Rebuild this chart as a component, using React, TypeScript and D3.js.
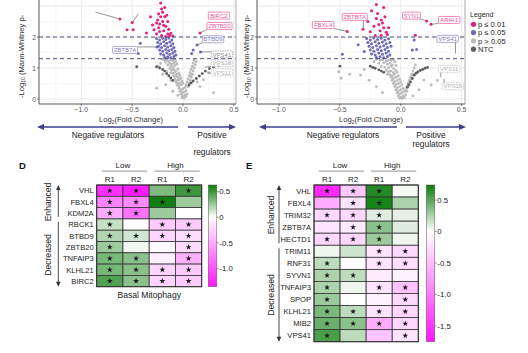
import React from "react";
import * as d3 from "d3";

type P = [number, number];

const FONT = "Liberation Sans, Arial, Helvetica, sans-serif";
const xTickVals = [-1.0, -0.5, 0.0, 0.5];
const xMinor = [-1.25, -0.75, -0.25, 0.25];
const yTickVals = [0, 1, 2];
const yGrid = [0, 1, 2, 3];
const yMinor = [0.5, 1.5, 2.5];
const thresholds = [2, 1.3];

const COL = { pink: "#e3217e", purple: "#6c6cb6", gray: "#bcbcbc", ntc: "#5f5f5f" };

// ---------- Left volcano (Basal) ----------
const leftPink: P[] = [
  [-0.62, 2.58], [-0.5, 2.47], [-0.55, 2.23], [-0.49, 2.23], [-0.36, 2.13], [-0.32, 2.65], [-0.3, 2.39],
  [-0.285, 2.23], [-0.26, 2.1], [-0.24, 2.3], [-0.22, 2.65], [-0.2, 2.5], [-0.18, 2.65], [-0.25, 2.55],
  [-0.23, 2.18], [-0.21, 2.05], [-0.19, 2.2], [-0.17, 2.35], [-0.15, 2.1], [-0.13, 2.05], [-0.2, 2.8],
  [-0.18, 2.95], [-0.22, 3.1], [-0.16, 2.7], [-0.24, 2.75], [-0.19, 2.38], [-0.14, 2.25], [-0.12, 2.12],
  [-0.1, 2.03], [-0.26, 2.45], [-0.17, 2.02], [0.167, 2.13], [-0.21, 2.9], [-0.15, 2.5], [-0.23, 2.42],
];
const leftPurple: P[] = [
  [-0.42, 1.8], [-0.44, 1.47], [0.085, 1.47], [0.1, 1.58], [0.138, 1.74], [-0.256, 1.68], [-0.26, 1.95],
  [-0.23, 1.9], [-0.2, 1.96], [-0.17, 1.92], [-0.14, 1.97], [-0.11, 1.9], [-0.25, 1.82], [-0.22, 1.78],
  [-0.19, 1.85], [-0.16, 1.8], [-0.13, 1.84], [-0.1, 1.78], [-0.24, 1.7], [-0.21, 1.66], [-0.18, 1.72],
  [-0.15, 1.68], [-0.12, 1.72], [-0.09, 1.66], [-0.23, 1.58], [-0.2, 1.54], [-0.17, 1.6], [-0.14, 1.56],
  [-0.11, 1.6], [-0.08, 1.54], [-0.22, 1.45], [-0.19, 1.42], [-0.16, 1.48], [-0.13, 1.44], [-0.1, 1.48],
  [-0.07, 1.42], [-0.18, 1.34], [-0.15, 1.36], [-0.12, 1.33], [-0.09, 1.37], [0.172, 1.52],
];
const leftGray: P[] = [
  [-0.2, 1.28], [-0.18, 1.25], [-0.16, 1.27], [-0.14, 1.22], [-0.12, 1.26], [-0.1, 1.24], [-0.08, 1.28],
  [-0.17, 1.18], [-0.13, 1.15], [-0.11, 1.12], [-0.09, 1.17], [-0.07, 1.2], [-0.15, 1.1], [-0.12, 1.05],
  [-0.1, 1.02], [-0.08, 1.08], [-0.06, 1.12], [-0.22, 1.15], [-0.24, 1.05], [-0.13, 0.98], [-0.11, 0.93],
  [-0.09, 0.95], [-0.07, 0.9], [-0.05, 0.97], [-0.12, 0.85], [-0.1, 0.82], [-0.08, 0.86], [-0.06, 0.8],
  [-0.04, 0.84], [-0.09, 0.75], [-0.07, 0.72], [-0.05, 0.7], [-0.03, 0.76], [-0.16, 0.88], [-0.2, 0.8],
  [-0.08, 0.65], [-0.06, 0.6], [-0.04, 0.62], [-0.02, 0.66], [-0.07, 0.55], [-0.05, 0.5], [-0.03, 0.52],
  [-0.01, 0.57], [-0.06, 0.45], [-0.04, 0.42], [-0.02, 0.46], [0, 0.5], [-0.12, 0.6], [-0.17, 0.46],
  [-0.04, 0.35], [-0.02, 0.3], [0, 0.33], [0.02, 0.37], [-0.03, 0.25], [-0.01, 0.2], [0.01, 0.22],
  [0.03, 0.27], [-0.02, 0.15], [0, 0.1], [0.02, 0.12], [-0.01, 0.05], [0.01, 0.03], [0.03, 0.08],
  [-0.05, 0.12], [0.04, 0.16], [-0.26, 0.35], [-0.1, 0.25], [0.03, 0.45], [0.05, 0.4], [0.04, 0.55],
  [0.06, 0.5], [0.05, 0.65], [0.07, 0.6], [0.06, 0.75], [0.08, 0.7], [0.07, 0.85], [0.09, 0.8],
  [0.08, 0.95], [0.1, 0.9], [0.09, 1.05], [0.11, 1.0], [0.1, 1.15], [0.12, 1.1], [0.11, 1.25],
  [0.13, 1.2], [0.085, 0.77], [0.167, 0.4], [0.2, 0.62], [0.25, 0.85], [0.14, 0.55], [0.3, 0.2],
];
const leftNtc: P[] = [
  [-0.455, 1.04], [-0.26, 1.04], [-0.23, 1.0], [-0.2, 0.95], [-0.18, 0.9], [-0.16, 0.82], [-0.14, 0.75],
  [-0.12, 0.68], [-0.1, 0.6], [0.06, 0.45], [0.08, 0.52], [0.1, 0.58], [0.13, 0.66], [0.16, 0.74],
  [0.19, 0.82], [0.22, 0.9], [0.26, 0.98], [0.3, 1.03], [0.35, 1.08], [0.4, 1.12], [0.45, 1.14],
];
// label: text, point x,y, label x,y, kind
const leftLabels: [string, number, number, number, number, string][] = [
  ["BIRC2", 0.354, 2.69, 0.354, 2.69, "pink"],
  ["ZBTB20", 0.167, 2.13, 0.359, 2.355, "pink"],
  ["BTBD9", 0.138, 1.74, 0.295, 1.926, "purple"],
  ["ZBTB7A", -0.256, 1.68, -0.57, 1.58, "purple"],
  ["VPS41", 0.172, 1.52, 0.383, 1.44, "dgray"],
  ["VPS18", 0.216, 1.03, 0.383, 1.16, "gray"],
  ["VPS11", 0.246, 0.84, 0.383, 0.86, "gray"],
];
const leftLeaders: [number, number, number, number][] = [
  [-0.62, 2.58, -0.86, 2.8],
  [-0.5, 2.47, -0.44, 2.74],
];

// ---------- Right volcano ----------
const rightPink: P[] = [
  [-0.44, 2.18], [-0.31, 2.25], [-0.25, 2.17], [-0.19, 2.76], [-0.18, 2.4], [-0.16, 2.55], [-0.14, 2.3],
  [-0.12, 2.15], [-0.2, 2.6], [-0.22, 2.35], [-0.15, 2.45], [-0.13, 2.65], [-0.17, 2.2], [-0.11, 2.08],
  [-0.21, 2.05], [-0.24, 2.85], [-0.14, 2.95], [-0.2, 3.05], [-0.16, 2.05], [0.213, 2.52], [0.249, 2.41],
  [0.12, 2.06], [-0.1, 2.3], [-0.27, 2.5],
];
const rightPurple: P[] = [
  [-0.28, 1.95], [-0.25, 1.9], [-0.22, 1.97], [-0.19, 1.92], [-0.16, 1.96], [-0.13, 1.9], [-0.1, 1.94],
  [-0.27, 1.82], [-0.24, 1.78], [-0.21, 1.85], [-0.18, 1.8], [-0.15, 1.84], [-0.12, 1.78], [-0.09, 1.82],
  [-0.26, 1.7], [-0.23, 1.66], [-0.2, 1.72], [-0.17, 1.68], [-0.14, 1.72], [-0.11, 1.66], [-0.08, 1.7],
  [-0.25, 1.58], [-0.22, 1.54], [-0.19, 1.6], [-0.16, 1.56], [-0.13, 1.6], [-0.1, 1.54], [-0.24, 1.45],
  [-0.21, 1.42], [-0.18, 1.48], [-0.15, 1.44], [-0.12, 1.48], [-0.09, 1.42], [-0.2, 1.34], [-0.17, 1.36],
  [-0.14, 1.33], [-0.11, 1.37], [-0.48, 1.44], [-0.3, 1.53], [0.095, 1.58], [0.13, 1.6], [0.11, 1.9],
  [-0.35, 1.75],
];
const rightGray: P[] = [
  [-0.2, 1.28], [-0.17, 1.25], [-0.15, 1.27], [-0.12, 1.22], [-0.1, 1.26], [-0.08, 1.24], [-0.06, 1.28],
  [-0.22, 1.2], [-0.18, 1.15], [-0.14, 1.17], [-0.11, 1.12], [-0.09, 1.15], [-0.07, 1.1], [-0.05, 1.2],
  [-0.16, 1.05], [-0.13, 1.02], [-0.1, 1.0], [-0.08, 1.06], [-0.06, 0.98], [-0.04, 1.08], [-0.12, 0.92],
  [-0.1, 0.88], [-0.08, 0.9], [-0.06, 0.85], [-0.04, 0.92], [-0.11, 0.8], [-0.09, 0.78], [-0.07, 0.75],
  [-0.05, 0.8], [-0.03, 0.86], [-0.08, 0.7], [-0.06, 0.66], [-0.04, 0.7], [-0.02, 0.74], [-0.07, 0.6],
  [-0.05, 0.56], [-0.03, 0.6], [-0.01, 0.64], [-0.06, 0.5], [-0.04, 0.46], [-0.02, 0.5], [0, 0.55],
  [-0.05, 0.4], [-0.03, 0.36], [-0.01, 0.4], [0.01, 0.45], [-0.04, 0.3], [-0.02, 0.26], [0, 0.3],
  [0.02, 0.34], [-0.03, 0.2], [-0.01, 0.16], [0.01, 0.2], [0.03, 0.24], [-0.02, 0.1], [0, 0.06],
  [0.02, 0.1], [0.04, 0.14], [-0.01, 0.03], [0.01, 0.02], [0.03, 0.05], [0.04, 0.3], [0.05, 0.4],
  [0.06, 0.5], [0.07, 0.6], [0.08, 0.7], [0.09, 0.8], [0.1, 0.9], [0.11, 1.0], [0.12, 1.1], [0.05, 0.25],
  [0.07, 0.45], [0.09, 0.65], [0.1, 0.78], [-0.51, 0.88], [-0.49, 0.67], [-0.42, 0.8], [-0.33, 0.77],
  [-0.3, 0.95], [-0.26, 0.6], [0.19, 0.61], [0.15, 0.3], [0.25, 0.45], [0.3, 0.6], [-0.2, 0.4],
  [-0.15, 0.2], [0.1, 0.1],
];
const rightNtc: P[] = [
  [-0.5, 1.06], [-0.25, 1.06], [-0.23, 1.02], [-0.21, 0.99], [-0.18, 0.94], [-0.16, 0.9], [-0.14, 0.86],
  [0.055, 0.38], [0.065, 0.46], [0.08, 0.55], [0.095, 0.66], [0.11, 0.77], [0.125, 0.83], [0.14, 0.87],
  [0.16, 0.92], [0.18, 0.95], [0.2, 0.99], [0.22, 1.02],
];
const rightLabels: [string, number, number, number, number, string][] = [
  ["FBXL4", -0.439, 2.18, -0.638, 2.387, "pink"],
  ["ZBTB7A", -0.307, 2.25, -0.378, 2.65, "pink"],
  ["SYN1", 0.213, 2.52, 0.088, 2.69, "pink"],
  ["ARIH1", 0.249, 2.41, 0.398, 2.55, "pink"],
  ["VPS41", 0.45, 1.47, 0.385, 1.94, "purple"],
  ["VPS11", 0.329, 0.7, 0.397, 0.97, "gray"],
  ["VPS18", 0.356, 0.645, 0.428, 0.41, "gray"],
];
const legendItems = ["p \u2264 0.01", "p \u2264 0.05", "p > 0.05", "NTC"];
const legendColors = [COL.pink, COL.purple, COL.gray, COL.ntc];

// ---------- Heatmaps ----------
const heatGroups = ["Low", "High"];
const heatCols = ["R1", "R2", "R1", "R2"];
const dGenes = ["VHL", "FBXL4", "KDM2A", "RBCK1", "BTBD9", "ZBTB20", "TNFAIP3", "KLHL21", "BIRC2"];
const dValues = [
  [-1.2, -1.32, 0.33, 0.5],
  [-0.72, -0.68, 0.62, 0.25],
  [-0.48, -0.82, 0.25, 0.0],
  [0.15, 0.0, -0.3, -0.3],
  [0.2, 0.12, -0.25, -0.2],
  [0.25, 0.04, -0.04, -0.2],
  [0.35, 0.3, -0.1, -0.45],
  [0.35, 0.3, -0.25, -0.3],
  [0.45, 0.3, -0.25, -0.3],
];
const dStars = [
  [1, 1, 0, 1], [1, 1, 1, 0], [1, 1, 0, 0], [1, 0, 1, 1], [1, 1, 1, 1],
  [1, 0, 0, 1], [1, 1, 0, 1], [1, 1, 1, 1], [1, 1, 1, 1],
];
const dTicks = ["0.5", "0", "-0.5", "-1.0"];
const dRange: [number, number] = [-1.36, 0.63];

const eGenes = ["VHL", "FBXL4", "TRIM32", "ZBTB7A", "HECTD1", "TRIM11", "RNF31", "SYVN1", "TNFAIP3", "SPOP", "KLHL21", "MIB2", "VPS41"];
const eValues = [
  [-1.6, -0.4, 0.66, 0.03],
  [-0.6, -0.2, 0.7, 0.25],
  [-0.3, -0.3, 0.1, 0.08],
  [-0.2, -0.15, 0.35, 0.1],
  [-0.3, -0.3, 0.3, 0.05],
  [0.05, 0.15, -0.2, -0.3],
  [0.2, 0.0, -0.2, -0.25],
  [0.25, 0.2, -0.15, -0.1],
  [0.25, 0.05, -0.2, -0.45],
  [0.3, 0.0, -0.1, -0.3],
  [0.4, 0.2, -0.2, -0.3],
  [0.45, 0.35, -0.6, -0.3],
  [0.55, 0.2, -0.45, -0.2],
];
const eStars = [
  [1, 1, 1, 0], [0, 1, 1, 0], [1, 1, 1, 0], [0, 1, 1, 0], [1, 1, 1, 0],
  [0, 0, 1, 1], [1, 0, 1, 1], [1, 1, 0, 0], [1, 0, 1, 1], [1, 0, 0, 1],
  [1, 1, 1, 1], [1, 1, 1, 1], [1, 0, 0, 1],
];
const eTicks = ["0.5", "0", "-0.5", "-1.0", "-1.5"];
const eRange: [number, number] = [-1.75, 0.74];

const GREEN = "#0a7d0a";
const MAGENTA = "#ff14ff";

const labelStyle: Record<string, { stroke: string; fill: string; dash?: string }> = {
  pink: { stroke: "#e4579b", fill: "#e4579b" },
  purple: { stroke: "#8a8ac6", fill: "#8080c0" },
  gray: { stroke: "#b5b5b5", fill: "#b5b5b5", dash: "1.5,1" },
  dgray: { stroke: "#8a8a8a", fill: "#8a8a8a", dash: "1.5,1" },
};

const fmt = d3.format(".1f");

function Sub({ t }: { t: string }) {
  return <tspan fontSize="5" dy="1.8">{t}</tspan>;
}

function Volcano(props: {
  x0: number; x1: number; xd: [number, number]; id: string;
  pink: P[]; purple: P[]; gray: P[]; ntc: P[];
  labels: [string, number, number, number, number, string][];
  leaders: [number, number, number, number][];
  yLabelX: number; titleX: number;
  neg: [number, number]; pos: [number, number]; negX: number; posX: number; regY: number;
}) {
  const { x0, x1, xd, id } = props;
  const x = d3.scaleLinear().domain(xd).range([x0, x1]);
  const y = d3.scaleLinear().domain([0, 2]).range([99, 37]);
  const top = -5, bottom = 104;
  const dot = (pts: P[], c: string, r: number) =>
    pts.map((p, i) => <circle key={c + i} cx={x(p[0])} cy={y(p[1])} r={r} fill={c} />);
  const ay = 127;
  return (
    <g>
      <defs>
        <clipPath id={"clip" + id}>
          <rect x={x0} y={top} width={x1 - x0} height={bottom - top} />
        </clipPath>
      </defs>
      <rect x={x0} y={top} width={x1 - x0} height={bottom - top} fill="#fff" />
      {xMinor.filter(v => x(v) > x0).map(v => (
        <line key={"xm" + v} x1={x(v)} x2={x(v)} y1={top} y2={bottom} stroke="#f3f3f3" strokeWidth={0.6} />
      ))}
      {yMinor.map(v => (
        <line key={"ym" + v} x1={x0} x2={x1} y1={y(v)} y2={y(v)} stroke="#f3f3f3" strokeWidth={0.6} />
      ))}
      {xTickVals.map(v => (
        <line key={"xg" + v} x1={x(v)} x2={x(v)} y1={top} y2={bottom} stroke="#e6e6e6" strokeWidth={0.8} />
      ))}
      {yGrid.map(v => (
        <line key={"yg" + v} x1={x0} x2={x1} y1={y(v)} y2={y(v)} stroke="#e6e6e6" strokeWidth={0.8} />
      ))}
      <g clipPath={`url(#clip${id})`}>
        {dot(props.gray, COL.gray, 1.45)}
        {dot(props.ntc, COL.ntc, 1.45)}
        {dot(props.purple, COL.purple, 1.5)}
        {dot(props.pink, COL.pink, 1.5)}
      </g>
      {thresholds.map(t => (
        <line key={"th" + t} x1={x0} x2={x1} y1={y(t)} y2={y(t)} stroke="#3b3b6e" strokeWidth={0.9} strokeDasharray="4,3" />
      ))}
      {props.leaders.map((l, i) => (
        <line key={"ld" + i} x1={x(l[0])} y1={y(l[1])} x2={x(l[2])} y2={y(l[3])} stroke="#666" strokeWidth={0.7} />
      ))}
      {props.labels.map((l, i) => {
        const st = labelStyle[l[5]];
        const w = l[0].length * 3.6 + 3.5;
        const h = 7;
        const lx = x(l[3]), ly = y(l[4]);
        const px = x(l[1]), py = y(l[2]);
        const ex = px < lx - w / 2 ? lx - w / 2 : px > lx + w / 2 ? lx + w / 2 : px;
        const ey = py < ly - h / 2 ? ly - h / 2 : py > ly + h / 2 ? ly + h / 2 : py;
        const same = Math.abs(px - lx) < 1 && Math.abs(py - ly) < 1;
        return (
          <g key={"lb" + i}>
            {!same && <line x1={px} y1={py} x2={ex} y2={ey} stroke="#666" strokeWidth={0.7} />}
            <rect x={lx - w / 2} y={ly - h / 2} width={w} height={h} rx={1.2} fill="#fff" fillOpacity={0.85}
              stroke={st.stroke} strokeWidth={0.7} strokeDasharray={st.dash} />
            <text x={lx} y={ly + 2.2} fontSize="6" textAnchor="middle" fill={st.fill}>{l[0]}</text>
          </g>
        );
      })}
      <line x1={x0} x2={x0} y1={top} y2={bottom} stroke="#444" strokeWidth={0.9} />
      <line x1={x0} x2={x1} y1={bottom} y2={bottom} stroke="#444" strokeWidth={0.9} />
      <line x1={x1} x2={x1} y1={top} y2={bottom} stroke="#888" strokeWidth={0.7} />
      {xTickVals.map(v => (
        <g key={"xt" + v}>
          <line x1={x(v)} x2={x(v)} y1={bottom} y2={bottom + 2} stroke="#444" strokeWidth={0.7} />
          <text x={x(v)} y={111.5} fontSize="6.8" textAnchor="middle" fill="#555">{fmt(v)}</text>
        </g>
      ))}
      {yTickVals.map(v => (
        <g key={"yt" + v}>
          <line x1={x0 - 2} x2={x0} y1={y(v)} y2={y(v)} stroke="#444" strokeWidth={0.7} />
          <text x={x0 - 3} y={y(v) + 2.5} fontSize="6.8" textAnchor="end" fill="#555">{v}</text>
        </g>
      ))}
      <text transform={`translate(${props.yLabelX},98) rotate(-90)`} fontSize="7.6" fill="#333">
        -Log<Sub t="10" /><tspan dy="-1.8"> (Mann-Whitney p-</tspan>
      </text>
      <text x={props.titleX} y={122} fontSize="7.6" textAnchor="middle" fill="#333">
        Log<Sub t="2" /><tspan dy="-1.8">(Fold Change)</tspan>
      </text>
      {/* regulator arrows */}
      <line x1={props.neg[0] + 5} x2={props.neg[1]} y1={ay} y2={ay} stroke="#3e3e8c" strokeWidth={1.4} />
      <polygon points={`${props.neg[0]},${ay} ${props.neg[0] + 7},${ay - 3} ${props.neg[0] + 7},${ay + 3}`} fill="#3e3e8c" />
      <line x1={props.pos[0]} x2={props.pos[1] - 5} y1={ay} y2={ay} stroke="#3e3e8c" strokeWidth={1.4} />
      <polygon points={`${props.pos[1]},${ay} ${props.pos[1] - 7},${ay - 3} ${props.pos[1] - 7},${ay + 3}`} fill="#3e3e8c" />
      <text x={props.negX} y={137.5} fontSize="8.4" textAnchor="middle" fill="#222">Negative regulators</text>
      <text x={props.posX} y={137.5} fontSize="8.4" textAnchor="middle" fill="#222">Positive</text>
      <text x={props.posX} y={props.regY} fontSize="8.4" textAnchor="middle" fill="#222">regulators</text>
    </g>
  );
}

function Heatmap(props: {
  id: string; letter: string; letterX: number;
  genes: string[]; values: number[][]; stars: number[][];
  x0: number; x1: number; y0: number; y1: number; range: [number, number]; ticks: string[];
  cbX: number; enhN: number; sideX: number; arrowX: number; enhC: number; decC: number; bottomText?: string;
}) {
  const { genes, values, stars, x0, x1, y0, y1, range } = props;
  const [mn, mx] = range;
  const colX = d3.scaleBand<number>().domain(d3.range(4)).range([x0, x1]);
  const rowY = d3.scaleBand<string>().domain(genes).range([y0, y1]);
  const color = (v: number) =>
    v < 0 ? d3.interpolateRgb("#ffffff", MAGENTA)(v / mn) : d3.interpolateRgb("#ffffff", GREEN)(v / mx);
  const cb = d3.scaleLinear().domain(range).range([y1, y0]);
  const star = d3.symbol().type(d3.symbolStar).size(11)() as string;
  const cw = colX.bandwidth();
  const rh = rowY.bandwidth();
  const t0 = mx / (mx - mn);
  const enhEnd = y0 + rh * props.enhN;
  return (
    <g>
      <defs>
        <linearGradient id={"cb" + props.id} x1="0" x2="0" y1="0" y2="1">
          <stop offset="0" stopColor={GREEN} />
          <stop offset={t0} stopColor="#ffffff" />
          <stop offset="1" stopColor={MAGENTA} />
        </linearGradient>
      </defs>
      <text x={props.letterX} y={168.5} fontSize="9.5" fontWeight="bold" fill="#111">{props.letter}</text>
      {heatGroups.map((g, gi) => {
        const a = colX(gi * 2)!, b = colX(gi * 2 + 1)! + cw;
        return (
          <g key={g}>
            <text x={(a + b) / 2} y={168} fontSize="8" textAnchor="middle" fill="#222">{g}</text>
            <line x1={a + 5} x2={b - 2} y1={171.2} y2={171.2} stroke="#aaa" strokeWidth={1.3} />
          </g>
        );
      })}
      {heatCols.map((c, i) => (
        <text key={"c" + i} x={colX(i)! + cw / 2} y={181.5} fontSize="8" textAnchor="middle" fill="#222">{c}</text>
      ))}
      {genes.map((g, r) => (
        <g key={g}>
          <text x={x0 - 3} y={rowY(g)! + rh / 2 + 2.8} fontSize="7.6" textAnchor="end" fill="#222">{g}</text>
          {values[r].map((v, c) => (
            <g key={c}>
              <rect x={colX(c)} y={rowY(g)} width={cw} height={rh} fill={color(v)} stroke="#333" strokeWidth={0.8} />
              {stars[r][c] ? (
                <path d={star} transform={`translate(${colX(c)! + cw / 2},${rowY(g)! + rh / 2})`} fill="#1a1a1a" />
              ) : null}
            </g>
          ))}
        </g>
      ))}
      <rect x={x0} y={y0} width={x1 - x0} height={y1 - y0} fill="none" stroke="#333" strokeWidth={1} />
      {/* colorbar */}
      <rect x={props.cbX} y={y0} width={8.5} height={y1 - y0} fill={`url(#cb${props.id})`} stroke="#555" strokeWidth={0.5} />
      {props.ticks.map(t => (
        <g key={"t" + t}>
          <line x1={props.cbX + 8.5} x2={props.cbX + 10.5} y1={cb(+t)} y2={cb(+t)} stroke="#555" strokeWidth={0.6} />
          <text x={props.cbX + 11} y={cb(+t) + 2.8} fontSize="7.8" fill="#222">{t}</text>
        </g>
      ))}
      {/* side labels */}
      <line x1={props.arrowX} x2={props.arrowX} y1={y0 + 3} y2={enhEnd - 2} stroke="#333" strokeWidth={0.9} />
      <polygon points={`${props.arrowX},${y0} ${props.arrowX - 2.3},${y0 + 5} ${props.arrowX + 2.3},${y0 + 5}`} fill="#333" />
      <line x1={props.arrowX} x2={props.arrowX} y1={enhEnd + 3} y2={y1 - 3} stroke="#333" strokeWidth={0.9} />
      <polygon points={`${props.arrowX},${y1} ${props.arrowX - 2.3},${y1 - 5} ${props.arrowX + 2.3},${y1 - 5}`} fill="#333" />
      <text transform={`translate(${props.sideX},${props.enhC}) rotate(-90)`} fontSize="8.6" textAnchor="middle" fill="#222">Enhanced</text>
      <text transform={`translate(${props.sideX},${props.decC}) rotate(-90)`} fontSize="8.6" textAnchor="middle" fill="#222">Decreased</text>
      {props.bottomText && (
        <text x={(x0 + x1) / 2} y={297.5} fontSize="8.6" textAnchor="middle" fill="#222">{props.bottomText}</text>
      )}
    </g>
  );
}

export default function App() {
  return (
    <svg width={528} height={353} fontFamily={FONT}
      style={{ position: "absolute", left: 0, top: 0, background: "#fff", fontFamily: FONT }}>
      <rect width={528} height={353} fill="#fff" />
      <Volcano id="L" x0={39} x1={236} xd={[-1.416, 0.521]}
        pink={leftPink} purple={leftPurple} gray={leftGray} ntc={leftNtc}
        labels={leftLabels} leaders={leftLeaders} yLabelX={23.5} titleX={131}
        neg={[37, 178]} pos={[188, 236]} negX={108} posX={212} regY={155} />
      <Volcano id="R" x0={257} x1={465} xd={[-1.181, 0.528]}
        pink={rightPink} purple={rightPurple} gray={rightGray} ntc={rightNtc}
        labels={rightLabels} leaders={[]} yLabelX={249} titleX={371}
        neg={[259, 397]} pos={[406, 466]} negX={343} posX={431} regY={147} />
      {/* legend */}
      <g>
        <text x={470} y={17} fontSize="7" fill="#222">Legend</text>
        {legendItems.map((t, i) => (
          <g key={t}>
            <circle cx={473.5} cy={24.3 + i * 8.3} r={2.6} fill={legendColors[i]} />
            <text x={478} y={26.9 + i * 8.3} fontSize="7.6" fill="#222">{t}</text>
          </g>
        ))}
      </g>
      <Heatmap id="D" letter="D" letterX={19} genes={dGenes} values={dValues} stars={dStars}
        x0={96.7} x1={201.7} y0={185} y1={286.7} range={dRange} ticks={dTicks}
        cbX={208.3} enhN={3} sideX={51} arrowX={58.3} enhC={202} decC={255} bottomText="Basal Mitophagy" />
      <Heatmap id="E" letter="E" letterX={246} genes={eGenes} values={eValues} stars={eStars}
        x0={314} x1={418.3} y0={185} y1={341.7} range={eRange} ticks={eTicks}
        cbX={426.3} enhN={5} sideX={273.5} arrowX={279} enhC={215} decC={295} />
    </svg>
  );
}
